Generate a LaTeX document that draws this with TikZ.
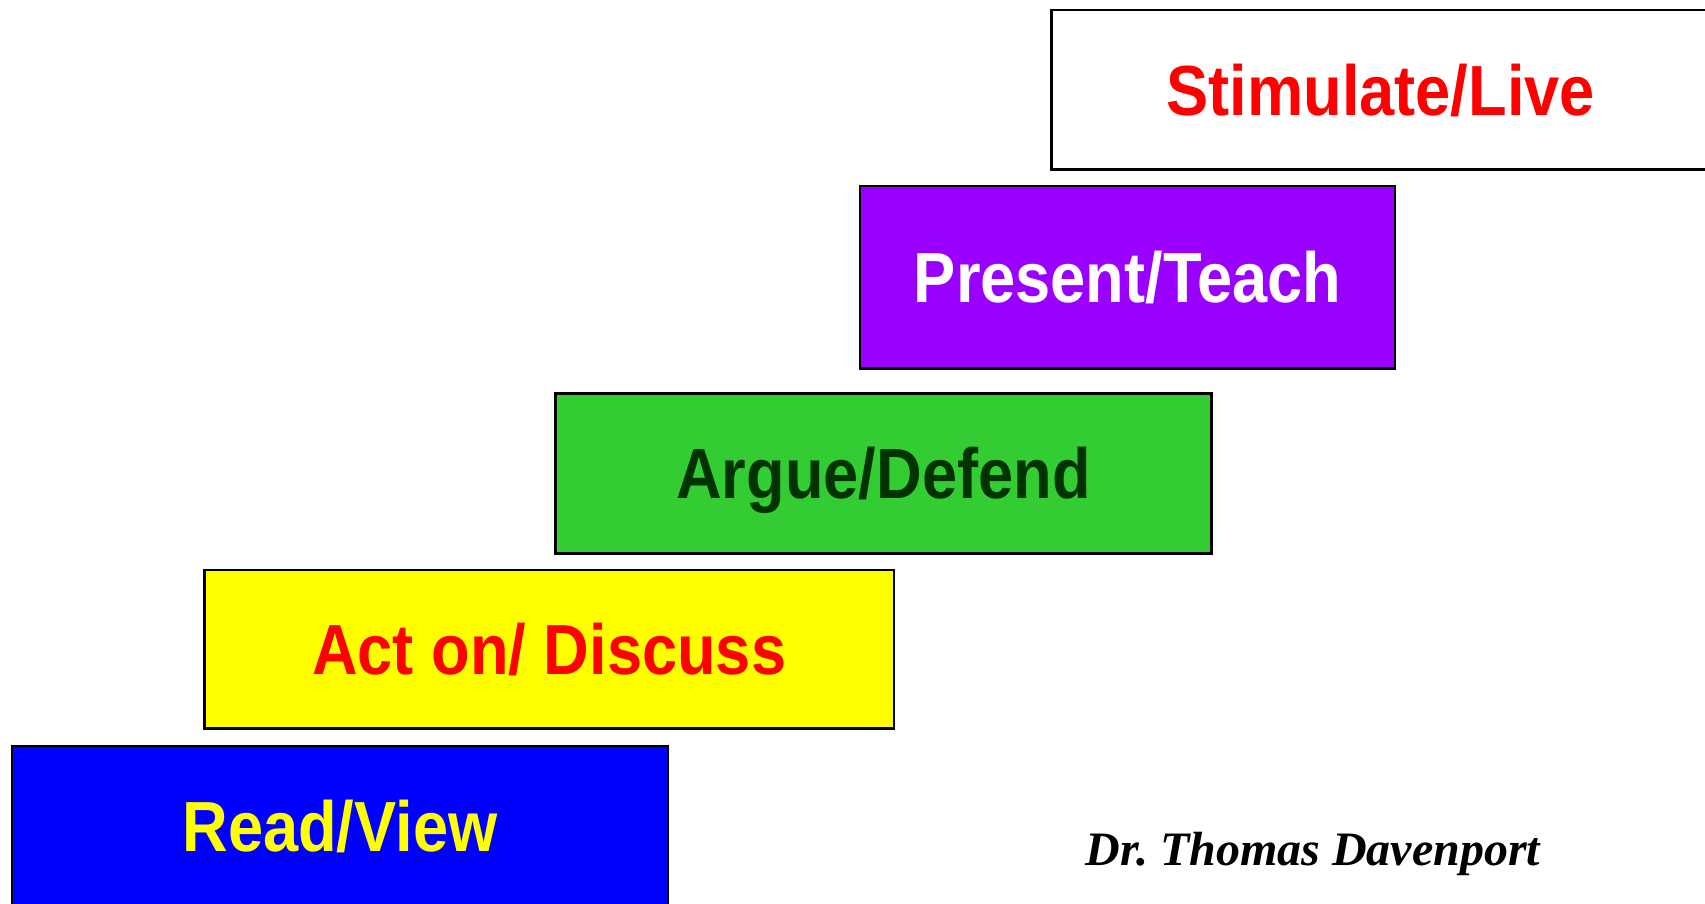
\documentclass[tikz,border=0pt]{standalone}
\usepackage{fontspec}
\newfontfamily\boxfont[FakeStretch=0.89]{Liberation Sans}
\newfontfamily\signfont{Liberation Serif}
\definecolor{stepred}{HTML}{FF0000}
\definecolor{steppurple}{HTML}{9900FF}
\definecolor{stepgreen}{HTML}{33CC33}
\definecolor{stepyellow}{HTML}{FFFF00}
\definecolor{stepblue}{HTML}{0000FF}
\definecolor{darkleaf}{HTML}{003300}
\frenchspacing
\tikzset{ %inner sep = 0.5mm,
  {box/.style}={rectangle, draw=black, line width=1.2pt,
                minimum width=327.9pt, minimum height=80pt,
                text height=25.4pt, text depth=0pt,
                font=\boxfont\bfseries\fontsize{35.5}{40}\selectfont,
                text centered},
  {sign/.style}={font=\signfont\bfseries\itshape\fontsize{24}{28}\selectfont},
}

\begin{document}
\begin{tikzpicture}[x=0.5pt,y=-0.5pt]
    \useasboundingbox[fill=white] (0,0) rectangle (1705,904);
    \node[box,fill=white,text=stepred,minimum width=329.3pt,minimum height=79.9pt]
      (live) at (1380.75,89.7) {Stimulate/Live};
    \node[box,fill=steppurple,text=white,minimum width=267.5pt,minimum height=91.3pt]
      (present) at (1127.5,277.3) {Present/Teach};
    \node[box,fill=stepgreen,text=darkleaf] (argue) at (883.5,473.5) {Argue/Defend};
    \node[box,fill=stepyellow,text=stepred,minimum width=344.8pt,minimum height=79.4pt]
      (act) at (549.2,649.2) {Act on/ Discuss};
    \node[box,fill=stepblue,text=stepyellow] (read) at (339.9,826) {Read/View};
    \node[sign] (author) at (1313,854) {Dr. Thomas Davenport};
\end{tikzpicture}
\end{document}
